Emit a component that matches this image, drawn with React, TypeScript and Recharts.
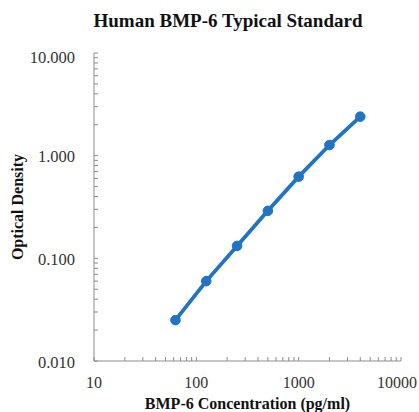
import React from 'react';
import { LineChart, Line, XAxis, YAxis } from 'recharts';

const concentration = [62.5, 125, 250, 500, 1000, 2000, 4000];
const opticalDensity = [0.025, 0.06, 0.132, 0.29, 0.625, 1.27, 2.4];

const xTicks = [
  10, 20, 30, 40, 50, 60, 70, 80, 90,
  100, 200, 300, 400, 500, 600, 700, 800, 900,
  1000, 2000, 3000, 4000, 5000, 6000, 7000, 8000, 9000, 10000,
];
const yTicks = [
  0.01, 0.02, 0.03, 0.04, 0.05, 0.06, 0.07, 0.08, 0.09,
  0.1, 0.2, 0.3, 0.4, 0.5, 0.6, 0.7, 0.8, 0.9,
  1, 2, 3, 4, 5, 6, 7, 8, 9, 10,
];
const xLabels = [10, 100, 1000, 10000];
const yLabels = [0.01, 0.1, 1, 10];

const data = concentration.map((c, i) => ({ c, od: opticalDensity[i] }));

const serif = '"Liberation Serif", "Times New Roman", serif';
const blue = '#1f74c4';
const axisGray = '#8c8c8c';

const isLabel = (list: number[], v: number) =>
  list.some((l) => Math.abs(l - v) / l < 1e-6);

// tick marks point into the plot; labels sit outside
const XTick = (props: any) => {
  const { x, payload } = props;
  const v = payload.value;
  if (!isLabel(xLabels, v)) return null;
  const shift = v === 10000 ? -4 : 0;
  return (
    <text
      x={x + shift}
      y={382}
      textAnchor="middle"
      dominantBaseline="central"
      fontFamily={serif}
      fontSize={16}
      fill="#333"
    >
      {String(v)}
    </text>
  );
};

const YTick = (props: any) => {
  const { y, payload } = props;
  const v = payload.value;
  if (!isLabel(yLabels, v)) return null;
  return (
    <text
      x={75}
      y={y + (v === 10 ? 4 : 1)}
      textAnchor="end"
      dominantBaseline="central"
      fontFamily={serif}
      fontSize={16.5}
      fill="#333"
    >
      {v.toFixed(3)}
    </text>
  );
};

export default function App() {
  return (
    <div style={{ position: 'absolute', left: 0, top: 0, width: 419, height: 412, background: '#fff' }}>
      <div
        style={{
          position: 'absolute',
          top: 10,
          left: 0,
          width: 456,
          textAlign: 'center',
          fontFamily: serif,
          fontWeight: 'bold',
          fontSize: 19,
          color: '#111',
        }}
      >
        Human BMP-6 Typical Standard
      </div>
      <LineChart
        width={419}
        height={412}
        data={data}
        margin={{ top: 53, right: 18, bottom: 21, left: 0 }}
      >
        <XAxis
          dataKey="c"
          type="number"
          scale="log"
          domain={[10, 10000]}
          ticks={xTicks}
          interval={0}
          allowDataOverflow
          stroke={axisGray}
          tickSize={-4}
          height={30}
          tick={<XTick />}
        />
        <YAxis
          dataKey="od"
          type="number"
          scale="log"
          domain={[0.01, 10]}
          ticks={yTicks}
          interval={0}
          allowDataOverflow
          stroke={axisGray}
          tickSize={-4}
          width={94}
          tick={<YTick />}
        />
        <Line
          type="linear"
          dataKey="od"
          stroke={blue}
          strokeWidth={3.8}
          dot={{ r: 4.8, fill: blue, stroke: blue, strokeWidth: 1 }}
          isAnimationActive={false}
        />
      </LineChart>
      <div
        style={{
          position: 'absolute',
          top: 395,
          left: 94,
          width: 307,
          textAlign: 'center',
          fontFamily: serif,
          fontWeight: 'bold',
          fontSize: 16,
          color: '#111',
        }}
      >
        BMP-6 Concentration (pg/ml)
      </div>
      <div
        style={{
          position: 'absolute',
          left: 18,
          top: 207,
          transform: 'translate(-50%, -50%) rotate(-90deg)',
          whiteSpace: 'nowrap',
          fontFamily: serif,
          fontWeight: 'bold',
          fontSize: 16,
          color: '#111',
        }}
      >
        Optical Density
      </div>
    </div>
  );
}
